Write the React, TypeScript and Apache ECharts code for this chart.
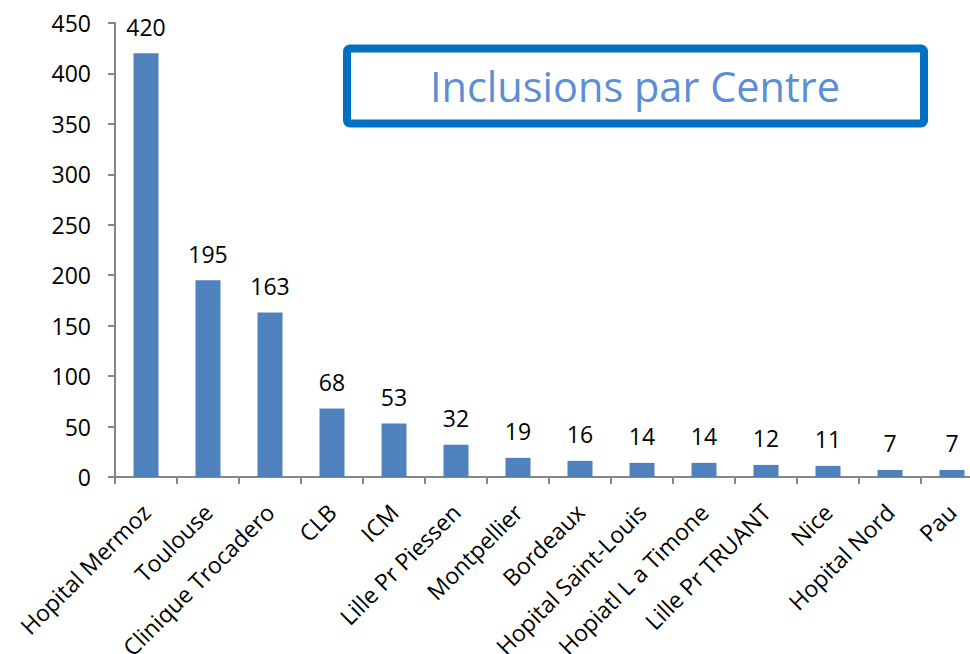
import React, { useEffect, useRef } from "react";
import * as echarts from "echarts";

const categories = [
  "Hopital Mermoz",
  "Toulouse",
  "Clinique Trocadero",
  "CLB",
  "ICM",
  "Lille Pr Piessen",
  "Montpellier",
  "Bordeaux",
  "Hopital Saint-Louis",
  "Hopiatl L a Timone",
  "Lille Pr TRUANT",
  "Nice",
  "Hopital Nord",
  "Pau",
];
const inclusions = [420, 195, 163, 68, 53, 32, 19, 16, 14, 14, 12, 11, 7, 7];
const titleText = "Inclusions par Centre";

const FONT = "'Open Sans', sans-serif";

export default function App() {
  const ref = useRef<HTMLDivElement>(null);
  useEffect(() => {
    const chart = echarts.init(ref.current!, null, { renderer: "svg" });
    chart.setOption({
      animation: false,
      backgroundColor: "#ffffff",
      grid: {
        left: 115,
        right: -13,
        top: 23,
        bottom: 177,
        containLabel: false,
        outerBoundsMode: "none",
      },
      xAxis: {
        type: "category",
        data: categories,
        axisLine: { lineStyle: { color: "#868686", width: 2 } },
        axisTick: { show: true, length: 7, lineStyle: { color: "#868686", width: 2 } },
        axisLabel: {
          rotate: 45,
          interval: 0,
          margin: 31,
          color: "#000000",
          fontFamily: FONT,
          fontSize: 23,
        },
      },
      yAxis: {
        type: "value",
        min: 0,
        max: 450,
        interval: 50,
        splitLine: { show: false },
        axisLine: { show: true, lineStyle: { color: "#868686", width: 2 } },
        axisTick: { show: true, length: 7, lineStyle: { color: "#868686", width: 2 } },
        axisLabel: {
          margin: 24,
          color: "#000000",
          fontFamily: FONT,
          fontSize: 23,
        },
      },
      series: [
        {
          type: "bar",
          data: inclusions,
          barWidth: 25,
          itemStyle: { color: "#4F81BD" },
          label: {
            show: true,
            position: "top",
            distance: 15,
            color: "#000000",
            fontFamily: FONT,
            fontSize: 23,
          },
        },
      ],
      graphic: [
        {
          type: "rect",
          shape: { x: 347, y: 48.5, width: 577, height: 75, r: 3 },
          style: { fill: "#ffffff", stroke: "#0070C0", lineWidth: 8 },
          z: 10,
        },
        {
          type: "text",
          x: 635,
          y: 86,
          style: {
            text: titleText,
            fill: "#5B8ED6",
            font: `41.5px ${FONT}`,
            align: "center",
            verticalAlign: "middle",
          },
          z: 11,
        },
      ],
    });
    return () => chart.dispose();
  }, []);
  return (
    <div
      ref={ref}
      style={{ position: "absolute", left: 0, top: 0, width: 970, height: 654 }}
    />
  );
}
